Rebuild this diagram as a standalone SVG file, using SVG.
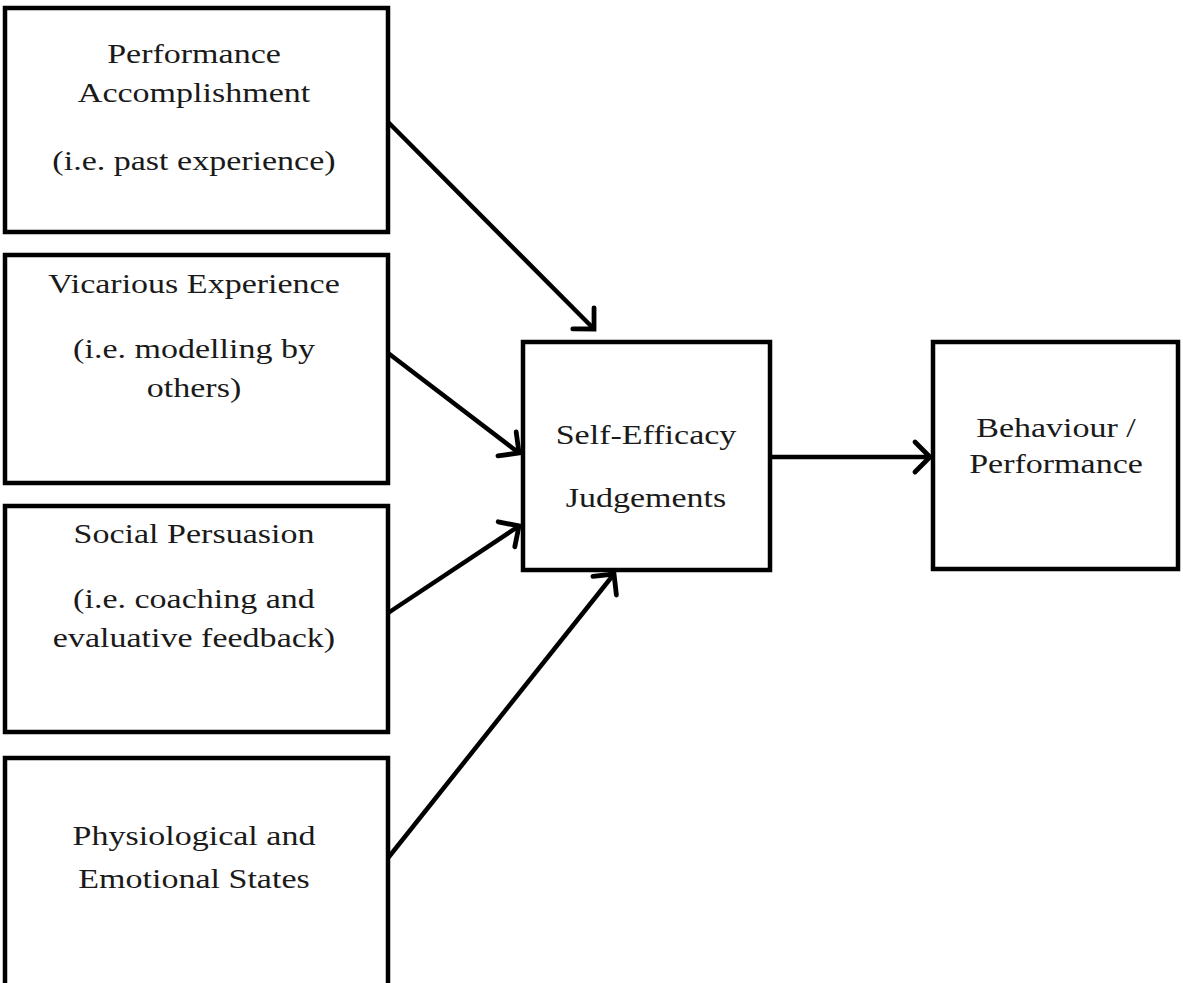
<svg xmlns="http://www.w3.org/2000/svg" width="1183" height="983" viewBox="0 0 1183 983">
<style>
.box{fill:#fff;stroke:#000;stroke-width:4.5}
.t{font-family:"Liberation Serif","Times New Roman",serif;font-size:27px;fill:#1a1a1a;text-anchor:middle}
.c{stroke:#000;stroke-width:4.5;fill:none}
</style>
<defs>
<marker id="ah" markerUnits="userSpaceOnUse" markerWidth="44" markerHeight="44" refX="24" refY="22" orient="auto" viewBox="0 0 44 44">
<path d="M9,7 L24,22 L9,37" fill="none" stroke="#000" stroke-width="4.8" stroke-linecap="round" stroke-linejoin="miter"/>
</marker>
</defs>
<rect width="1183" height="983" fill="#fff"/>
<g id="n1"><rect class="box" x="5" y="8" width="383" height="224"/>
<text class="t" transform="translate(194,63) scale(1.26,1)">Performance</text>
<text class="t" transform="translate(194,102) scale(1.26,1)">Accomplishment</text>
<text class="t" transform="translate(194,170) scale(1.26,1)">(i.e. past experience)</text></g>
<g id="n2"><rect class="box" x="5" y="255" width="383" height="228"/>
<text class="t" transform="translate(194,293) scale(1.26,1)">Vicarious Experience</text>
<text class="t" transform="translate(194,358) scale(1.26,1)">(i.e. modelling by</text>
<text class="t" transform="translate(194,397) scale(1.26,1)">others)</text></g>
<g id="n3"><rect class="box" x="5" y="506" width="383" height="226"/>
<text class="t" transform="translate(194,543) scale(1.26,1)">Social Persuasion</text>
<text class="t" transform="translate(194,608) scale(1.26,1)">(i.e. coaching and</text>
<text class="t" transform="translate(194,647) scale(1.26,1)">evaluative feedback)</text></g>
<g id="n4"><rect class="box" x="5" y="758" width="383" height="240"/>
<text class="t" transform="translate(194,845) scale(1.26,1)">Physiological and</text>
<text class="t" transform="translate(194,888) scale(1.26,1)">Emotional States</text></g>
<g id="n5"><rect class="box" x="523" y="342" width="247" height="228"/>
<text class="t" transform="translate(646,444) scale(1.26,1)">Self-Efficacy</text>
<text class="t" transform="translate(646,507) scale(1.26,1)">Judgements</text></g>
<g id="n6"><rect class="box" x="933" y="342" width="245" height="227"/>
<text class="t" transform="translate(1056,437) scale(1.26,1)">Behaviour /</text>
<text class="t" transform="translate(1056,473) scale(1.26,1)">Performance</text></g>
<g id="connectors">
<line class="c" x1="388" y1="122" x2="594" y2="329" marker-end="url(#ah)"/>
<line class="c" x1="388" y1="353" x2="519" y2="453" marker-end="url(#ah)"/>
<line class="c" x1="388" y1="613" x2="519" y2="526" marker-end="url(#ah)"/>
<line class="c" x1="388" y1="858" x2="614" y2="574" marker-end="url(#ah)"/>
<line class="c" x1="770" y1="457" x2="930" y2="457" marker-end="url(#ah)"/>
</g>
</svg>
